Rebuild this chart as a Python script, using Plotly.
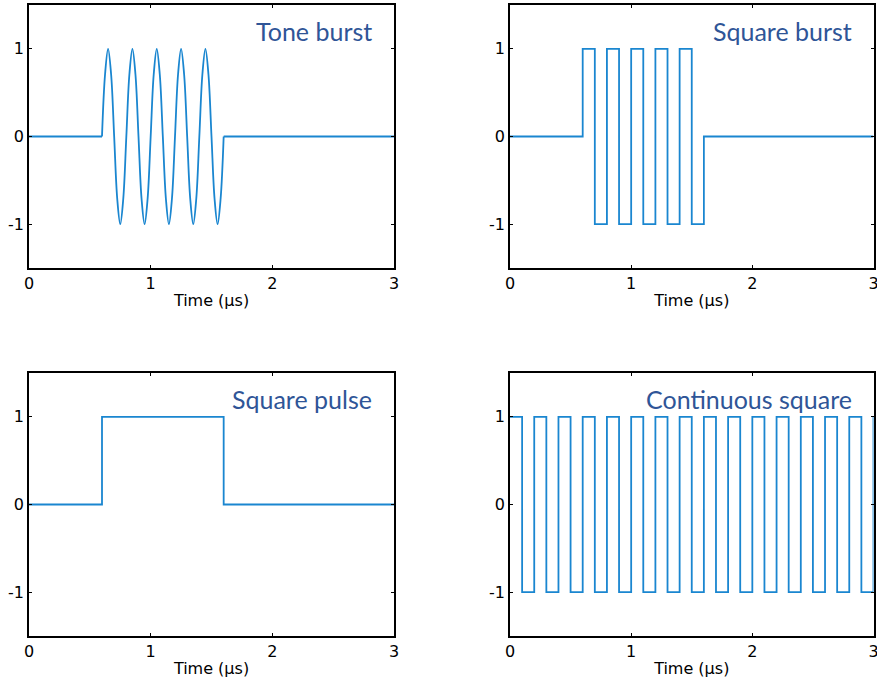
import plotly.graph_objects as go
from plotly.subplots import make_subplots

# ---- data ----
tone_flat1_t = [0.0, 0.6]
tone_flat1_y = [0.0, 0.0]
tone_burst_t = [0.6, 0.625, 0.65, 0.675, 0.7, 0.725, 0.75, 0.775,
                0.8, 0.825, 0.85, 0.875, 0.9, 0.925, 0.95, 0.975,
                1.0, 1.025, 1.05, 1.075, 1.1, 1.125, 1.15, 1.175,
                1.2, 1.225, 1.25, 1.275, 1.3, 1.325, 1.35, 1.375,
                1.4, 1.425, 1.45, 1.475, 1.5, 1.525, 1.55, 1.575, 1.6]
tone_burst_y = [0.0, 0.707, 1.0, 0.707, 0.0, -0.707, -1.0, -0.707,
                0.0, 0.707, 1.0, 0.707, 0.0, -0.707, -1.0, -0.707,
                0.0, 0.707, 1.0, 0.707, 0.0, -0.707, -1.0, -0.707,
                0.0, 0.707, 1.0, 0.707, 0.0, -0.707, -1.0, -0.707,
                0.0, 0.707, 1.0, 0.707, 0.0, -0.707, -1.0, -0.707, 0.0]
tone_flat2_t = [1.6, 3.0]
tone_flat2_y = [0.0, 0.0]

sqburst_t = [0.0, 0.6, 0.7, 0.8, 0.9, 1.0, 1.1, 1.2, 1.3, 1.4, 1.5, 1.6, 3.0]
sqburst_y = [0, 1, -1, 1, -1, 1, -1, 1, -1, 1, -1, 0, 0]

pulse_t = [0.0, 0.6, 1.6, 3.0]
pulse_y = [0, 1, 0, 0]

cont_t = [0.0, 0.1, 0.2, 0.3, 0.4, 0.5, 0.6, 0.7, 0.8, 0.9, 1.0,
          1.1, 1.2, 1.3, 1.4, 1.5, 1.6, 1.7, 1.8, 1.9, 2.0,
          2.1, 2.2, 2.3, 2.4, 2.5, 2.6, 2.7, 2.8, 2.9, 3.0]
cont_y = [1, -1, 1, -1, 1, -1, 1, -1, 1, -1, 1,
          -1, 1, -1, 1, -1, 1, -1, 1, -1, 1,
          -1, 1, -1, 1, -1, 1, -1, 1, -1, 1]

titles = ["Tone burst", "Square burst", "Square pulse", "Continuous square"]
x_ticks = [0, 1, 2, 3]
x_tick_text = ["0", "1", "2", "3"]
y_ticks = [-1, 0, 1]
y_tick_text = ["-1", "0", "1"]
x_label = "Time (\u03bcs)"

LINE = "#1a86d0"
TEXT = "#2f5597"

fig = make_subplots(rows=2, cols=2)

def add(t, y, r, c, shape="linear"):
    fig.add_trace(go.Scatter(x=t, y=y, mode="lines",
                             line=dict(color=LINE, width=1.8, shape=shape,
                                       smoothing=1.0 if shape == "spline" else None),
                             showlegend=False, hoverinfo="skip"), row=r, col=c)

add(tone_flat1_t, tone_flat1_y, 1, 1)
add(tone_burst_t, tone_burst_y, 1, 1, "spline")
add(tone_flat2_t, tone_flat2_y, 1, 1)
add(sqburst_t, sqburst_y, 1, 2, "hv")
add(pulse_t, pulse_y, 2, 1, "hv")
add(cont_t, cont_y, 2, 2, "hv")

W, H = 877, 679
xdoms = [[29 / W, 394 / W], [510 / W, 873.5 / W]]
ydoms = [[1 - 268 / H, 1 - 5 / H], [1 - 636 / H, 1 - 373 / H]]

axfont = dict(family="DejaVu Sans", size=16, color="black")
for i in range(4):
    r, c = divmod(i, 2)
    n = "" if i == 0 else str(i + 1)
    fig.layout["xaxis" + n].update(
        domain=xdoms[c], range=[0, 3], tickvals=x_ticks, ticktext=x_tick_text,
        ticks="inside", automargin=False, ticklabeloverflow="allow",
        ticklen=3, tickcolor="black", showline=True, linecolor="black",
        linewidth=1.5, mirror="ticks", showgrid=False, zeroline=False,
        tickfont=axfont, title=dict(text=x_label, font=axfont, standoff=3))
    fig.layout["yaxis" + n].update(
        domain=ydoms[r], range=[-1.5, 1.5], tickvals=y_ticks, ticktext=y_tick_text,
        ticks="inside", automargin=False,
        ticklen=3, tickcolor="black", showline=True, linecolor="black",
        linewidth=1.5, mirror="ticks", showgrid=False, zeroline=False,
        tickfont=axfont, ticklabelstandoff=0)
    fig.add_annotation(text=titles[i], xref="x" + n + " domain", yref="y" + n + " domain",
                       x=0.945, y=0.965, xanchor="right", yanchor="top", showarrow=False,
                       font=dict(family="Lato", size=25, color=TEXT))

fig.update_layout(width=W, height=H, margin=dict(l=0, r=0, t=0, b=0),
                  paper_bgcolor="white", plot_bgcolor="white")

fig.write_html("out.html")
